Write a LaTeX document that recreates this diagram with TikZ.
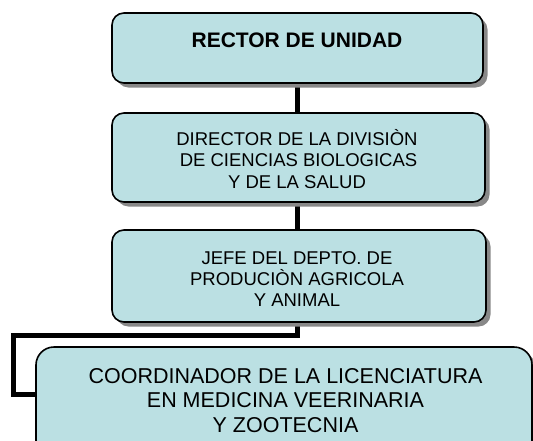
\documentclass[tikz,border=0pt]{standalone}
\usepackage{fontspec}
\setmainfont{Liberation Sans}
\usetikzlibrary{shadows}
\definecolor{boxfill}{RGB}{187,224,227}
\definecolor{shadowgray}{RGB}{136,136,136}
\begin{document}
\begin{tikzpicture}[x=1pt,y=-1pt,
  orgbox/.style={draw=black, line width=1.6pt, fill=boxfill, rounded corners=12pt,
    inner sep=0pt, drop shadow={shadow xshift=4.5pt, shadow yshift=-4.5pt, fill=shadowgray, opacity=1}},
  link/.style={draw=black, line width=5pt},
  lbl/.style={anchor=north, inner sep=0pt, align=center, text=black}]
\useasboundingbox (0,0) rectangle (533,440);
\clip (0,0) rectangle (533,440);
% box positions
\coordinate (p1) at (297.5,48);
\coordinate (p2) at (298.5,157.5);
\coordinate (p3) at (299,276);
\coordinate (p4) at (284,408.5);
% guide shapes for connectors
\path (p1) node[minimum width=371pt, minimum height=70pt, inner sep=0pt] (g1) {};
\path (p2) node[minimum width=373pt, minimum height=89pt, inner sep=0pt] (g2) {};
\path (p3) node[minimum width=374pt, minimum height=92pt, inner sep=0pt] (g3) {};
\path (p4) node[minimum width=496pt, minimum height=123pt, inner sep=0pt] (g4) {};
\coordinate (k1) at (13.5,335.5);
\coordinate (k2) at (13.5,394);
% connectors first (behind boxes)
\draw[link] ([xshift=-0.5pt]g1.south) -- ([xshift=-0.5pt]g1.south |- g2.north);
\draw[link] ([xshift=-1.5pt]g2.south) -- ([xshift=-1.5pt]g2.south |- g3.north);
\draw[link] ([xshift=-2pt]g3.south) |- (k1) -- (k2) -- (k2 -| g4.west);
% boxes
\node[orgbox, minimum width=371pt, minimum height=70pt] (b1) at (p1) {};
\node[orgbox, minimum width=373pt, minimum height=89pt] (b2) at (p2) {};
\node[orgbox, minimum width=374pt, minimum height=92pt] (b3) at (p3) {};
\node[orgbox, rounded corners=18pt, minimum width=496pt, minimum height=123pt] (b4) at (p4) {};
% texts
\node[lbl, font=\bfseries\fontsize{21}{24}\selectfont] (t1) at (297,26) {\rule{0pt}{21pt}RECTOR DE UNIDAD};
\node[lbl, font=\fontsize{18.5}{21.75}\selectfont] (t2) at (297,126.5) {\rule{0pt}{18.5pt}DIRECTOR DE LA DIVISIÒN\\\hspace*{3pt}DE CIENCIAS BIOLOGICAS\\Y DE LA SALUD};
\node[lbl, font=\fontsize{18.5}{20.75}\selectfont] (t3) at (297,246) {\rule{0pt}{18.5pt}JEFE DEL DEPTO. DE\\PRODUCIÒN AGRICOLA\\Y ANIMAL};
\node[lbl, font=\fontsize{21.5}{24.5}\selectfont] (t4) at (285.5,361.5) {\rule{0pt}{21.5pt}COORDINADOR DE LA LICENCIATURA\\EN MEDICINA VEERINARIA\\Y ZOOTECNIA};
\end{tikzpicture}
\end{document}
